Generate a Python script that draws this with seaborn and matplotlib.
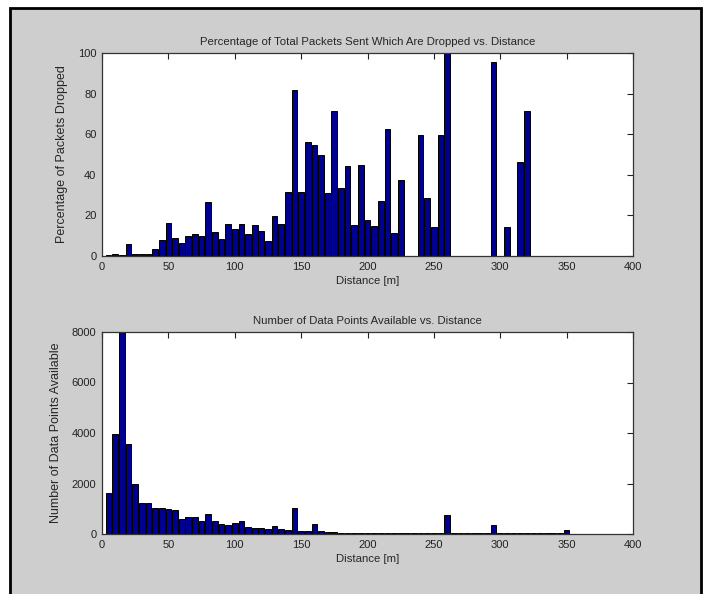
import numpy as np
import pandas as pd
import seaborn as sns
import matplotlib.pyplot as plt
from matplotlib.patches import Rectangle

# distance bins [m]
distance = [5, 10, 15, 20, 25, 30, 35, 40, 45, 50,
            55, 60, 65, 70, 75, 80, 85, 90, 95, 100,
            105, 110, 115, 120, 125, 130, 135, 140, 145, 150,
            155, 160, 165, 170, 175, 180, 185, 190, 195, 200,
            205, 210, 215, 220, 225, 230, 235, 240, 245, 250,
            255, 260, 265, 270, 275, 280, 285, 290, 295, 300,
            305, 310, 315, 320, 325, 330, 335, 340, 345, 350]

# percentage of packets dropped per bin
pct_dropped = [0.5, 1, 0.7, 5.7, 1, 1, 1, 3.3, 7.7, 16.4,
               8.7, 6.2, 9.7, 10.8, 10, 26.4, 11.8, 8.2, 15.7, 13.1,
               15.7, 10.7, 15.2, 12.1, 7.4, 19.7, 15.6, 31.3, 81.8, 31.3,
               56.4, 54.8, 49.8, 31.1, 71.5, 33.3, 44.4, 15.3, 44.9, 17.9,
               14.8, 26.9, 62.8, 11.5, 37.4, 0, 0, 59.8, 28.4, 14.3,
               59.8, 100, 0, 0, 0, 0, 0, 0, 95.7, 0,
               14.3, 0, 46.2, 71.5, 0, 0, 0, 0, 0, 0]

# number of data points per bin
n_points = [1640, 3970, 8000, 3570, 1970, 1230, 1230, 1040, 1040, 1000,
            960, 580, 670, 670, 510, 810, 510, 410, 340, 450,
            520, 260, 220, 220, 180, 310, 180, 140, 1040, 100,
            100, 410, 120, 70, 70, 40, 35, 40, 30, 35,
            30, 40, 35, 30, 35, 30, 30, 35, 30, 30,
            35, 760, 30, 30, 30, 30, 30, 30, 350, 30,
            30, 30, 30, 35, 30, 30, 30, 30, 30, 160]

df = pd.DataFrame({'distance': distance, 'pct': pct_dropped, 'count': n_points})

sns.set_style('white')
plt.rcParams['font.family'] = ['Liberation Sans Narrow', 'Liberation Sans', 'DejaVu Sans']

fig = plt.figure(figsize=(7.04, 5.94), dpi=100, facecolor='white')

# grey MATLAB-like figure panel with black frame
W, H = 704, 594
frame = Rectangle((10 / W, -0.02), (701 - 10) / W, (H - 8) / H + 0.02,
                  transform=fig.transFigure, facecolor='#cecece',
                  edgecolor='black', linewidth=2.0, zorder=-5)
fig.add_artist(frame)

ax1 = fig.add_axes([102 / W, 1 - 256 / H, (633 - 102) / W, (256 - 53) / H])
ax2 = fig.add_axes([102 / W, 1 - 534 / H, (633 - 102) / W, (534 - 332) / H])

bar_kw = dict(native_scale=True, width=0.86, color='#000090', saturation=1,
              edgecolor='black', linewidth=0.7)
sns.barplot(data=df, x='distance', y='pct', ax=ax1, **bar_kw)
sns.barplot(data=df, x='distance', y='count', ax=ax2, **bar_kw)

for ax in (ax1, ax2):
    ax.set_facecolor('white')
    ax.set_xlim(0, 400)
    ax.set_xticks(range(0, 401, 50))
    ax.tick_params(direction='in', length=4, width=0.8, top=True, right=True,
                   labelsize=8, colors='#222222', pad=4)
    for s in ax.spines.values():
        s.set_color('#333333')
        s.set_linewidth(0.9)
    ax.set_xlabel('Distance [m]', fontsize=8.2, labelpad=3)

ax1.set_ylim(0, 100)
ax1.set_yticks(range(0, 101, 20))
ax1.set_title('Percentage of Total Packets Sent Which Are Dropped vs. Distance',
              fontsize=8.2, pad=6)
ax1.set_ylabel('Percentage of Packets Dropped', fontsize=9,
               family=['Liberation Sans', 'DejaVu Sans'], labelpad=7)

ax2.set_ylim(0, 8000)
ax2.set_yticks(range(0, 8001, 2000))
ax2.set_title('Number of Data Points Available vs. Distance', fontsize=8.2, pad=6)
ax2.set_ylabel('Number of Data Points Available', fontsize=9,
               family=['Liberation Sans', 'DejaVu Sans'], labelpad=7)

plt.savefig('out.png', dpi=100, facecolor=fig.get_facecolor())
